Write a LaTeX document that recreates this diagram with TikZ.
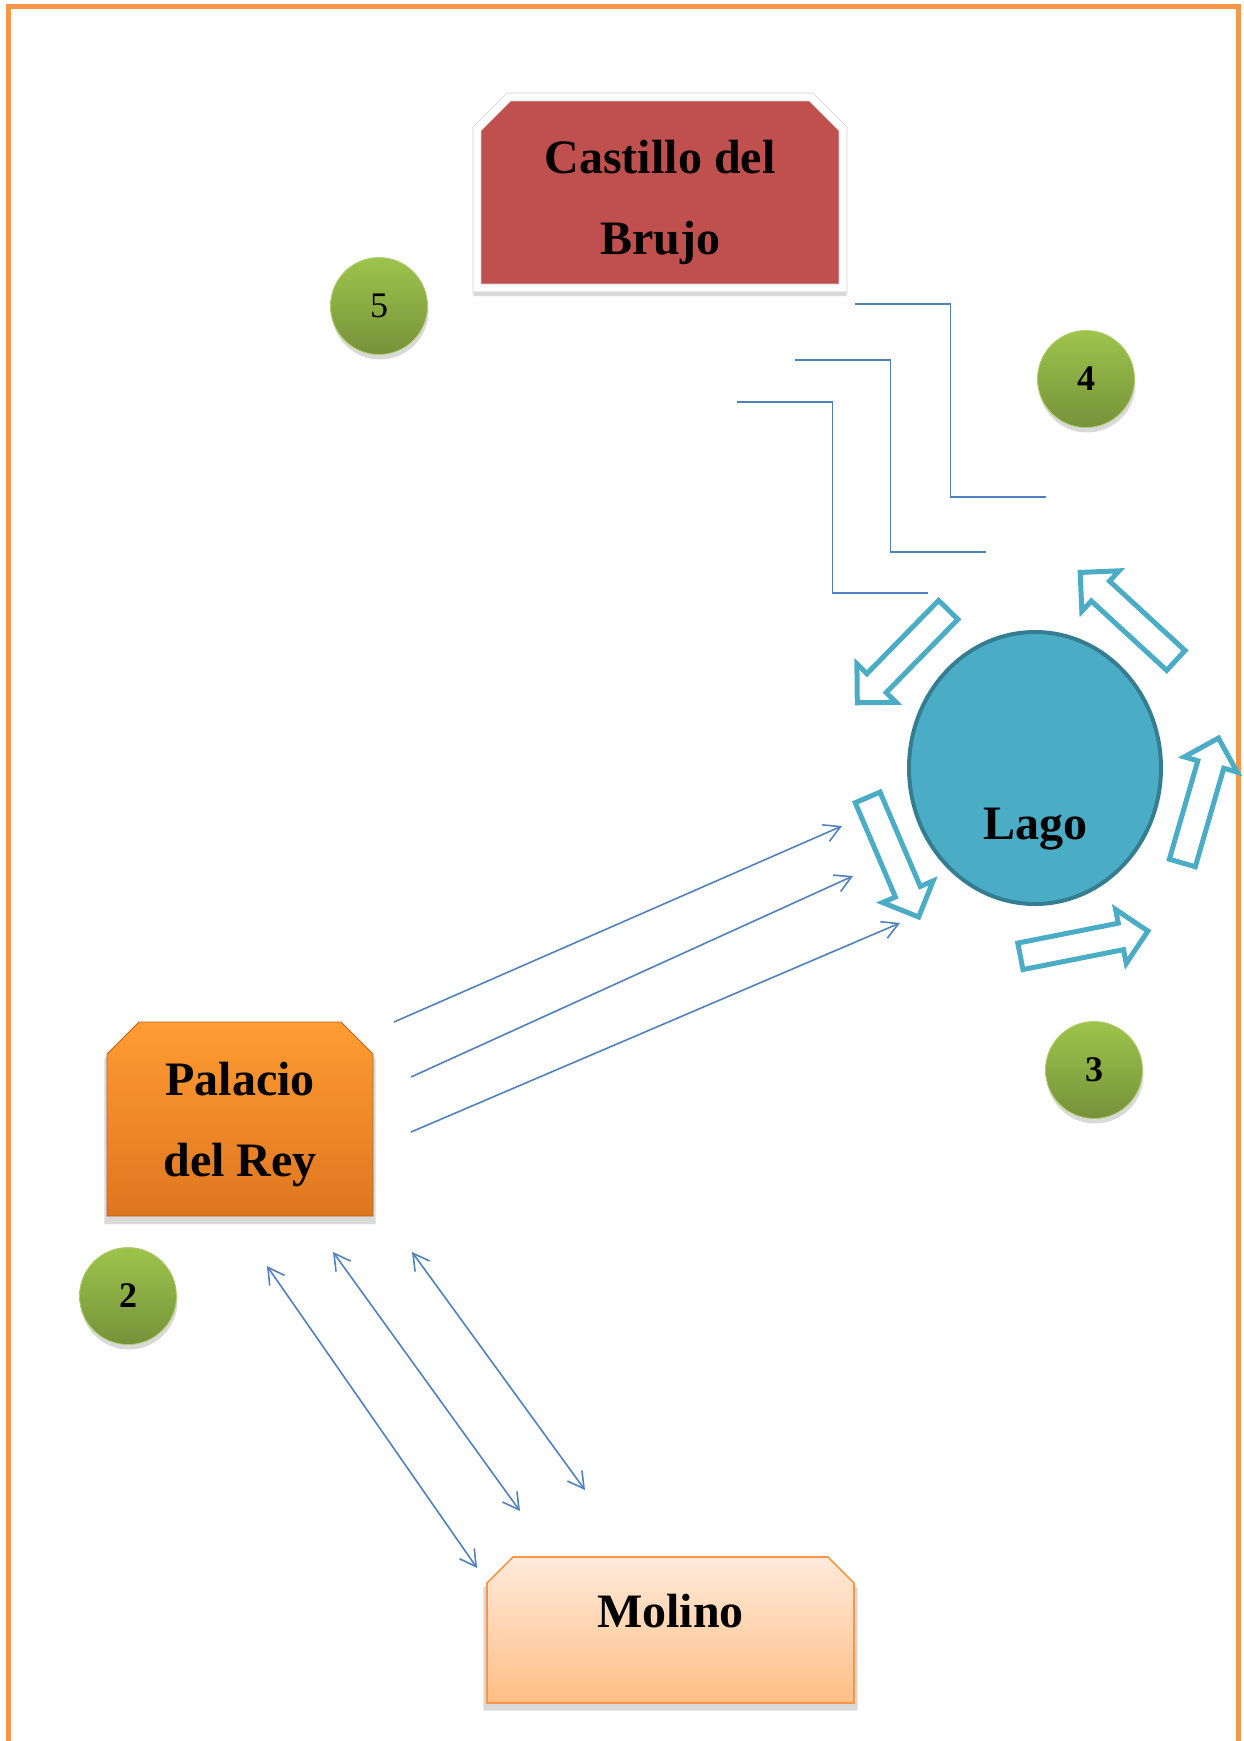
\documentclass[tikz,border=0pt]{standalone}
\usepackage{fontspec}
\setmainfont{Liberation Serif}
\usetikzlibrary{shapes.geometric,shapes.arrows,shadows,arrows.meta,calc,backgrounds}
\definecolor{brujored}{RGB}{192,80,77}
\definecolor{palacetop}{RGB}{255,156,50}
\definecolor{palacebot}{RGB}{222,118,32}
\definecolor{milledge}{RGB}{247,150,70}
\definecolor{milltop}{RGB}{255,234,218}
\definecolor{millbot}{RGB}{255,190,134}
\definecolor{lakeblue}{RGB}{75,172,198}
\definecolor{lakedark}{RGB}{53,126,146}
\definecolor{roadblue}{RGB}{79,129,189}
\definecolor{balltop}{RGB}{157,196,76}
\definecolor{ballbot}{RGB}{118,146,58}
% box with its two upper corners cut off: node, cut, style
\newcommand{\chamferbox}[3]{%
  \path[#3] (#1.south west) -- ([yshift=-#2]#1.north west) -- ([xshift=#2]#1.north west)
    -- ([xshift=-#2]#1.north east) -- ([yshift=-#2]#1.north east) -- (#1.south east) -- cycle;}

\begin{document}
\begin{tikzpicture}[x=0.5pt,y=-0.5pt,>={Straight Barb[length=8pt,width=9pt]},
    placetext/.style={font=\fontsize{24}{40.5}\selectfont\bfseries,align=center},
    placebox/.style={rectangle,inner sep=0pt,outer sep=0pt},
    boxshadow/.style={drop shadow={opacity=0.3,shadow xshift=0pt,shadow yshift=-3pt,shadow scale=1.02}},
    ball/.style={circle,minimum size=48.5pt,inner sep=0pt,top color=balltop,bottom color=ballbot,
        draw=balltop!85!white,thin,font=\fontsize{18}{20}\selectfont\bfseries,
        drop shadow={opacity=0.3,shadow xshift=0.5pt,shadow yshift=-2.5pt}},
    hollowarrow/.style={single arrow,draw=lakeblue,line width=2.5pt,fill=white,minimum height=65pt,
        inner sep=5.5pt,single arrow head extend=7pt,single arrow tip angle=90},
    road/.style={roadblue,line width=0.8pt}]
  \useasboundingbox (0,0) rectangle (1243,1741);
  \draw[milledge,line width=2.5pt] (8,6) rectangle (1238,1790);

  % places
  \node[placebox,minimum width=183pt,minimum height=95.5pt,
      label={[placetext,yshift=-5pt]center:{Castillo del\\Brujo}}] (castillo) at (660,192.5) {};
  \node[placebox,minimum width=133pt,minimum height=97pt,
      label={[placetext,yshift=-3pt]center:{Palacio\\del Rey}}] (palacio) at (240,1119) {};
  \node[placebox,minimum width=183.5pt,minimum height=73pt,
      label={[placetext,yshift=9.5pt]center:Molino}] (molino) at (670.5,1630) {};
  \node[ellipse,fill=lakeblue,draw=lakedark,line width=2pt,minimum width=126pt,minimum height=136pt,
      label={[placetext,yshift=-30.5pt]center:Lago}] (lago) at (1035,768) {};
  \begin{scope}[on background layer]
    \chamferbox{castillo}{16pt}{fill=brujored,draw=black!18,line width=0.4pt,double=white,double distance=3.6pt,boxshadow}
    \chamferbox{palacio}{16pt}{top color=palacetop,bottom color=palacebot,draw=palacebot!85!black,thin,boxshadow}
    \chamferbox{molino}{13pt}{top color=milltop,bottom color=millbot,draw=milledge,line width=0.8pt,boxshadow}
  \end{scope}

  % numbers
  \node[ball,font=\fontsize{18}{20}\selectfont] (n5) at (379,306) {5};
  \node[ball] (n4) at (1086,379) {4};
  \node[ball] (n3) at (1094,1070) {3};
  \node[ball] (n2) at (128,1296) {2};

  % flows round the lake
  \node[hollowarrow,rotate=225.6] (flowa) at (907.5,651.5) {};
  \node[hollowarrow,rotate=137.4] (flowb) at (1133,621) {};
  \node[hollowarrow,rotate=-66.9] (flowc) at (890.5,851) {};
  \node[hollowarrow,rotate=73.9] (flowd) at (1198.5,807) {};
  \node[hollowarrow,rotate=11.2] (flowe) at (1077.5,945) {};

  % roads
  \coordinate (r1s) at (394,1022); \coordinate (r1e) at (842,826);
  \coordinate (r2s) at (411,1077); \coordinate (r2e) at (853,876);
  \coordinate (r3s) at (411,1132); \coordinate (r3e) at (900,923);
  \coordinate (m1s) at (267,1266); \coordinate (m1e) at (477,1568);
  \coordinate (m2s) at (333,1252); \coordinate (m2e) at (520,1511);
  \coordinate (m3s) at (412,1252); \coordinate (m3e) at (585,1490);
  \coordinate (c1s) at (855,304); \coordinate (c1e) at (1046,497);
  \coordinate (c2s) at (795,360); \coordinate (c2e) at (986,552);
  \coordinate (c3s) at (737,402); \coordinate (c3e) at (928,593);
  \foreach \i in {1,2,3} {
    \draw[road,->] (r\i s) -- (r\i e);
    \draw[road,<->] (m\i s) -- (m\i e);
    \draw[road] (c\i s) -| ($(c\i s)!.5!(c\i e)$) |- (c\i e);
  }
\end{tikzpicture}
\end{document}
